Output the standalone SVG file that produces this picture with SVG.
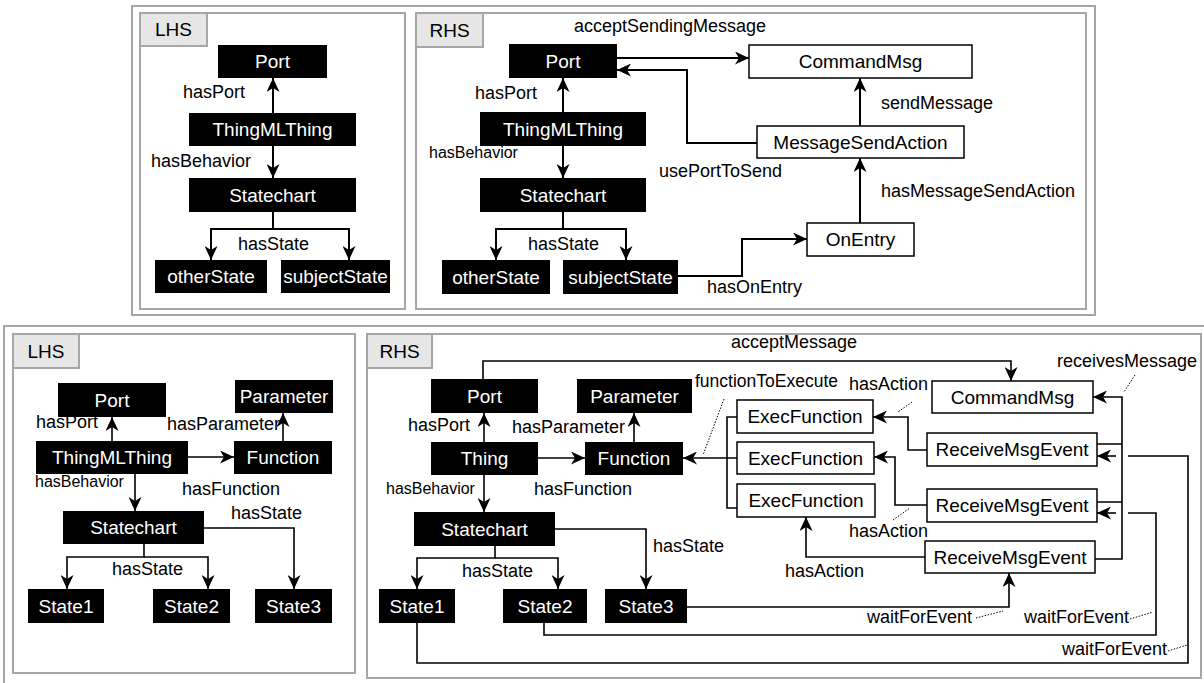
<svg xmlns="http://www.w3.org/2000/svg" width="1204" height="683" viewBox="0 0 1204 683">
  <style>
    .frame { fill: #fff; stroke: #a6a6a6; stroke-width: 2; }
    .tab { fill: #e6e6e6; stroke: #a6a6a6; stroke-width: 2; }
    .tabtxt { font-family: "Liberation Sans", Arial, sans-serif; font-size: 19px; fill: #000; text-anchor: middle; }
    .bn { fill: #000; }
    .wn { fill: #fff; stroke: #000; stroke-width: 1.5; }
    .nt { font-family: "Liberation Sans", Arial, sans-serif; font-size: 19px; fill: #fff; text-anchor: middle; }
    .nt2 { font-family: "Liberation Sans", Arial, sans-serif; font-size: 19px; fill: #000; text-anchor: middle; }
    .e { fill: none; stroke: #000; stroke-width: 2; }
    .e2 { fill: none; stroke: #000; stroke-width: 1.6; }
    .lbl { font-family: "Liberation Sans", Arial, sans-serif; font-size: 18px; fill: #000; }
    .sm { font-size: 16px; }
    .dot { fill: none; stroke: #000; stroke-width: 1; stroke-dasharray: 1.5 1.5; }
  </style>
  <defs>
    <marker id="arr" viewBox="0 0 14 13" refX="14" refY="6.5" markerWidth="14" markerHeight="13" markerUnits="userSpaceOnUse" orient="auto">
      <path d="M0,0 L14,6.5 L0,13 L4,6.5 z" fill="#000"/>
    </marker>
  </defs>

  <rect width="1204" height="683" fill="#fff"/>

  <!-- ===== Rule 1 ===== -->
  <g id="rule1-frame">
    <rect class="frame" x="132" y="6" width="963" height="309"/>
  </g>

  <!-- Rule 1, left-hand side -->
  <g id="r1-lhs-panel">
    <rect class="frame" x="140" y="13" width="265" height="296"/>
    <rect class="tab" x="140" y="13" width="67" height="33"/>
    <text class="tabtxt" x="173.5" y="36">LHS</text>
  </g>
  <g id="r1-lhs-port"><rect class="bn" x="218" y="45" width="109" height="33"/><text class="nt" x="272.5" y="68">Port</text></g>
  <g id="r1-lhs-thing"><rect class="bn" x="189" y="113" width="167" height="33"/><text class="nt" x="272.5" y="136">ThingMLThing</text></g>
  <g id="r1-lhs-statechart"><rect class="bn" x="189" y="178" width="167" height="34"/><text class="nt" x="272.5" y="202">Statechart</text></g>
  <g id="r1-lhs-other"><rect class="bn" x="155" y="260" width="112" height="33"/><text class="nt" x="211" y="283">otherState</text></g>
  <g id="r1-lhs-subject"><rect class="bn" x="281" y="260" width="109" height="33"/><text class="nt" x="335.5" y="283">subjectState</text></g>
  <g id="r1-lhs-edges">
    <path class="e" d="M273,113 V78" marker-end="url(#arr)"/>
    <path class="e" d="M273,146 V178" marker-end="url(#arr)"/>
    <path class="e" d="M273,212 V229 H211 V260" marker-end="url(#arr)"/>
    <path class="e" d="M273,229 H349 V260" marker-end="url(#arr)"/>
    <text class="lbl" x="183" y="98">hasPort</text>
    <text class="lbl" x="151" y="167">hasBehavior</text>
    <text class="lbl" x="238" y="250">hasState</text>
  </g>

  <!-- Rule 1, right-hand side -->
  <g id="r1-rhs-panel">
    <rect class="frame" x="416" y="13" width="670" height="296"/>
    <rect class="tab" x="416" y="13" width="67" height="34"/>
    <text class="tabtxt" x="449.5" y="37">RHS</text>
  </g>
  <g id="r1-rhs-port"><rect class="bn" x="509" y="44" width="108" height="34"/><text class="nt" x="563" y="68">Port</text></g>
  <g id="r1-rhs-thing"><rect class="bn" x="480" y="112" width="166" height="34"/><text class="nt" x="563" y="136">ThingMLThing</text></g>
  <g id="r1-rhs-statechart"><rect class="bn" x="480" y="178" width="166" height="34"/><text class="nt" x="563" y="202">Statechart</text></g>
  <g id="r1-rhs-other"><rect class="bn" x="442" y="260" width="108" height="34"/><text class="nt" x="496" y="284">otherState</text></g>
  <g id="r1-rhs-subject"><rect class="bn" x="563" y="260" width="115" height="34"/><text class="nt" x="620.5" y="284">subjectState</text></g>
  <g id="r1-rhs-cmd"><rect class="wn" x="749" y="45" width="223" height="33"/><text class="nt2" x="860.5" y="68">CommandMsg</text></g>
  <g id="r1-rhs-msa"><rect class="wn" x="757" y="126" width="207" height="32"/><text class="nt2" x="860.5" y="149">MessageSendAction</text></g>
  <g id="r1-rhs-onentry"><rect class="wn" x="807" y="223" width="107" height="33"/><text class="nt2" x="860.5" y="246">OnEntry</text></g>
  <g id="r1-rhs-edges">
    <path class="e" d="M563,112 V78" marker-end="url(#arr)"/>
    <path class="e" d="M563,146 V178" marker-end="url(#arr)"/>
    <path class="e" d="M563,212 V229 H496 V260" marker-end="url(#arr)"/>
    <path class="e" d="M563,229 H626 V260" marker-end="url(#arr)"/>
    <path class="e" d="M617,58 H749" marker-end="url(#arr)"/>
    <path class="e" d="M757,143 H687 V70 H617" marker-end="url(#arr)"/>
    <path class="e" d="M860,126 V78" marker-end="url(#arr)"/>
    <path class="e" d="M860,223 V158" marker-end="url(#arr)"/>
    <path class="e" d="M678,276 H742 V239 H807" marker-end="url(#arr)"/>
    <text class="lbl" x="475" y="99">hasPort</text>
    <text class="lbl sm" x="429" y="158">hasBehavior</text>
    <text class="lbl" x="528" y="250">hasState</text>
    <text class="lbl" x="574" y="32">acceptSendingMessage</text>
    <text class="lbl" x="659" y="177">usePortToSend</text>
    <text class="lbl" x="881" y="109">sendMessage</text>
    <text class="lbl" x="881" y="197">hasMessageSendAction</text>
    <text class="lbl" x="707" y="293">hasOnEntry</text>
  </g>

  <!-- ===== Rule 2 ===== -->
  <g id="rule2-frame">
    <rect class="frame" x="4" y="326" width="1210" height="370"/>
  </g>

  <!-- Rule 2, left-hand side -->
  <g id="r2-lhs-panel">
    <rect class="frame" x="13" y="334" width="342" height="339"/>
    <rect class="tab" x="13" y="334" width="66" height="34"/>
    <text class="tabtxt" x="46" y="358">LHS</text>
  </g>
  <g id="r2-lhs-port"><rect class="bn" x="58" y="383" width="108" height="34"/><text class="nt" x="112" y="407">Port</text></g>
  <g id="r2-lhs-param"><rect class="bn" x="235" y="380" width="98" height="33"/><text class="nt" x="284" y="403">Parameter</text></g>
  <g id="r2-lhs-thing"><rect class="bn" x="36" y="441" width="152" height="33"/><text class="nt" x="112" y="464">ThingMLThing</text></g>
  <g id="r2-lhs-function"><rect class="bn" x="234" y="441" width="98" height="33"/><text class="nt" x="283" y="464">Function</text></g>
  <g id="r2-lhs-statechart"><rect class="bn" x="63" y="511" width="141" height="33"/><text class="nt" x="133.5" y="534">Statechart</text></g>
  <g id="r2-lhs-state1"><rect class="bn" x="28" y="589" width="76" height="34"/><text class="nt" x="66" y="613">State1</text></g>
  <g id="r2-lhs-state2"><rect class="bn" x="153" y="589" width="77" height="34"/><text class="nt" x="191.5" y="613">State2</text></g>
  <g id="r2-lhs-state3"><rect class="bn" x="255" y="589" width="77" height="34"/><text class="nt" x="293.5" y="613">State3</text></g>
  <g id="r2-lhs-edges">
    <path class="e2" d="M112,441 V417" marker-end="url(#arr)"/>
    <path class="e2" d="M283,441 V413" marker-end="url(#arr)"/>
    <path class="e2" d="M188,457 H234" marker-end="url(#arr)"/>
    <path class="e2" d="M135,474 V511" marker-end="url(#arr)"/>
    <path class="e2" d="M144,544 V557 H67 V589" marker-end="url(#arr)"/>
    <path class="e2" d="M144,557 H208 V589" marker-end="url(#arr)"/>
    <path class="e2" d="M204,528 H294 V589" marker-end="url(#arr)"/>
    <text class="lbl" x="36" y="428">hasPort</text>
    <text class="lbl" x="167" y="430">hasParameter</text>
    <text class="lbl" x="182" y="495">hasFunction</text>
    <text class="lbl sm" x="35" y="487">hasBehavior</text>
    <text class="lbl" x="112" y="575">hasState</text>
    <text class="lbl" x="231" y="519">hasState</text>
  </g>

  <!-- Rule 2, right-hand side -->
  <g id="r2-rhs-panel">
    <rect class="frame" x="367" y="334" width="834" height="344"/>
    <rect class="tab" x="367" y="334" width="65" height="34"/>
    <text class="tabtxt" x="399.5" y="358">RHS</text>
  </g>
  <g id="r2-rhs-port"><rect class="bn" x="431" y="379" width="107" height="34"/><text class="nt" x="484.5" y="403">Port</text></g>
  <g id="r2-rhs-param"><rect class="bn" x="577" y="379" width="115" height="34"/><text class="nt" x="634.5" y="403">Parameter</text></g>
  <g id="r2-rhs-thing"><rect class="bn" x="431" y="442" width="107" height="33"/><text class="nt" x="484.5" y="465">Thing</text></g>
  <g id="r2-rhs-function"><rect class="bn" x="585" y="442" width="98" height="33"/><text class="nt" x="634" y="465">Function</text></g>
  <g id="r2-rhs-statechart"><rect class="bn" x="414" y="512" width="141" height="34"/><text class="nt" x="484.5" y="536">Statechart</text></g>
  <g id="r2-rhs-state1"><rect class="bn" x="379" y="589" width="76" height="34"/><text class="nt" x="417" y="613">State1</text></g>
  <g id="r2-rhs-state2"><rect class="bn" x="503" y="589" width="84" height="34"/><text class="nt" x="545" y="613">State2</text></g>
  <g id="r2-rhs-state3"><rect class="bn" x="605" y="589" width="82" height="34"/><text class="nt" x="646" y="613">State3</text></g>
  <g id="r2-rhs-exec1"><rect class="wn" x="737" y="400" width="136" height="33"/><text class="nt2" x="805" y="423">ExecFunction</text></g>
  <g id="r2-rhs-exec2"><rect class="wn" x="737" y="442" width="137" height="32"/><text class="nt2" x="805.5" y="465">ExecFunction</text></g>
  <g id="r2-rhs-exec3"><rect class="wn" x="737" y="484" width="138" height="33"/><text class="nt2" x="806" y="507">ExecFunction</text></g>
  <g id="r2-rhs-cmd"><rect class="wn" x="932" y="381" width="161" height="32"/><text class="nt2" x="1012.5" y="404">CommandMsg</text></g>
  <g id="r2-rhs-rme1"><rect class="wn" x="927" y="433" width="170" height="33"/><text class="nt2" x="1012" y="456">ReceiveMsgEvent</text></g>
  <g id="r2-rhs-rme2"><rect class="wn" x="927" y="489" width="170" height="33"/><text class="nt2" x="1012" y="512">ReceiveMsgEvent</text></g>
  <g id="r2-rhs-rme3"><rect class="wn" x="925" y="541" width="170" height="32"/><text class="nt2" x="1010" y="564">ReceiveMsgEvent</text></g>
  <g id="r2-rhs-edges">
    <path class="e2" d="M484,442 V413" marker-end="url(#arr)"/>
    <path class="e2" d="M634,442 V413" marker-end="url(#arr)"/>
    <path class="e2" d="M538,458 H585" marker-end="url(#arr)"/>
    <path class="e2" d="M484,475 V512" marker-end="url(#arr)"/>
    <path class="e2" d="M495,546 V558 H417 V589" marker-end="url(#arr)"/>
    <path class="e2" d="M495,558 H558 V589" marker-end="url(#arr)"/>
    <path class="e2" d="M555,529 H646 V589" marker-end="url(#arr)"/>
    <!-- acceptMessage -->
    <path class="e2" d="M483,379 V361 H1011 V381" marker-end="url(#arr)"/>
    <!-- functionToExecute bracket -->
    <path class="e2" d="M737,417 H727 V508 H737"/>
    <path class="e2" d="M737,458 H683" marker-end="url(#arr)"/>
    <!-- hasAction -->
    <path class="e2" d="M927,450 H908 V417 H873" marker-end="url(#arr)"/>
    <path class="e2" d="M927,505 H895 V457 H874" marker-end="url(#arr)"/>
    <path class="e2" d="M925,557 H806 V517" marker-end="url(#arr)"/>
    <!-- receivesMessage -->
    <path class="e2" d="M1097,444 H1122 M1097,502 H1122 M1095,559 H1122 V397 H1093" marker-end="url(#arr)"/>
    <!-- waitForEvent -->
    <path class="e2" d="M687,607 H1009 V573" marker-end="url(#arr)"/>
    <path class="e2" d="M544,623 V635 H1156 V513 H1128"/>
    <path class="e2" d="M1116,513 H1097" marker-end="url(#arr)"/>
    <path class="e2" d="M417,623 V663 H1188 V456 H1128"/>
    <path class="e2" d="M1116,456 H1097" marker-end="url(#arr)"/>
    <!-- dotted label leaders -->
    <path class="dot" d="M724,399 L703,455"/>
    <path class="dot" d="M912,402 L898,412"/>
    <path class="dot" d="M893,520 L910,508"/>
    <path class="dot" d="M1135,375 L1124,392"/>
    <path class="dot" d="M976,618 L1003,611"/>
    <path class="dot" d="M1130,619 L1153,612"/>
    <path class="dot" d="M1168,651 L1187,645"/>
    <text class="lbl" x="408" y="431">hasPort</text>
    <text class="lbl" x="512" y="433">hasParameter</text>
    <text class="lbl" x="534" y="495">hasFunction</text>
    <text class="lbl sm" x="386" y="494">hasBehavior</text>
    <text class="lbl" x="462" y="577">hasState</text>
    <text class="lbl" x="653" y="552">hasState</text>
    <text class="lbl" x="731" y="348">acceptMessage</text>
    <text class="lbl" x="695" y="387" style="font-size:17.5px">functionToExecute</text>
    <text class="lbl" x="849" y="390">hasAction</text>
    <text class="lbl" x="849" y="537">hasAction</text>
    <text class="lbl" x="785" y="577">hasAction</text>
    <text class="lbl" x="1057" y="367">receivesMessage</text>
    <text class="lbl" x="867" y="623">waitForEvent</text>
    <text class="lbl" x="1024" y="623">waitForEvent</text>
    <text class="lbl" x="1062" y="655">waitForEvent</text>
  </g>
</svg>
